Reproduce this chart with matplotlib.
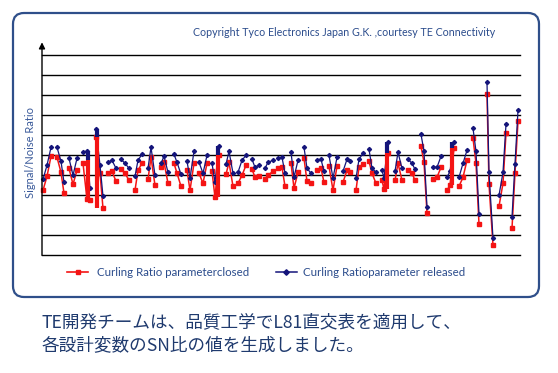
import numpy as np
import matplotlib
matplotlib.use("Agg")
import matplotlib.pyplot as plt
from matplotlib.patches import FancyBboxPatch
from matplotlib.lines import Line2D
from matplotlib.transforms import IdentityTransform

# ---- data (x = run position, y = S/N height in chart units) ----
group_x = [
    [43, 47, 51], [57, 61, 64], [69, 73, 77], [83, 87, 90], [96, 100, 103],
    [108, 112, 116], [121, 125, 129], [135, 138, 142], [148, 151, 155], [161, 164, 168],
    [174, 177, 181], [187, 190, 194], [199, 203, 207], [212, 215, 219], [226, 229, 233],
    [238, 242, 246], [252, 255, 259], [265, 268, 273], [278, 282, 285], [291, 294, 298],
    [304, 307, 311], [317, 321, 324], [329, 333, 337], [343, 347, 350], [356, 359, 363],
    [369, 372, 376], [382, 384, 388], [395, 398, 402], [408, 412, 415], [421, 424, 427],
    [433, 437, 441], [447, 450, 454], [459, 463, 467], [473, 476, 479], [487, 489, 493],
    [499, 503, 506], [512, 515, 518],
]
released = [
    [76, 90, 108], [108, 94, 73], [97, 80, 97], [103, 104, 67], [126, 90, 59],
    [93, 95, 87], [96, 92, 87], [79, 95, 101], [87, 108, 80], [92, 99, 83],
    [101, 93, 81], [94, 77, 104], [93, 82, 100], [92, 73, 109], [91, 104, 82],
    [83, 95, 100], [96, 88, 90], [87, 93, 95], [97, 98, 82], [103, 78, 95],
    [108, 87, 82], [95, 96, 84], [100, 77, 98], [84, 96, 94], [77, 96, 102],
    [106, 87, 83], [85, 77, 113], [84, 103, 87], [96, 92, 86], [121, 104, 48],
    [88, 88, 99], [78, 84, 113], [78, 92, 105], [127, 104, 41], [173, 83, 17],
    [60, 83, 131], [38, 91, 145],
]
closed = [
    [65, 79, 99], [98, 83, 62], [87, 71, 85], [92, 56, 55], [118, 82, 47],
    [82, 84, 74], [86, 82, 75], [65, 85, 92], [76, 98, 70], [88, 93, 72],
    [92, 82, 69], [85, 65, 92], [82, 72, 92], [84, 58, 100], [81, 93, 69],
    [72, 80, 90], [86, 78, 79], [76, 80, 84], [87, 88, 69], [92, 67, 83],
    [97, 74, 72], [85, 87, 73], [89, 65, 89], [73, 85, 83], [65, 88, 91],
    [94, 82, 72], [75, 66, 102], [75, 92, 75], [85, 82, 75], [109, 93, 42],
    [76, 78, 88], [65, 70, 107], [69, 78, 95], [117, 92, 31], [161, 71, 10],
    [49, 72, 122], [27, 82, 134],
]
# dense clusters of runs that render as thick vertical bars
bar_x = [88, 97, 218, 387, 452]
bar_released_top = [104, 126, 109, 113, 113]
bar_split = [95, 118, 100, 102, 107]
bar_closed_bottom = [56, 47, 58, 66, 70]

legend_labels = ["Curling Ratio parameterclosed", "Curling Ratioparameter released"]
ylabel = "Signal/Noise Ratio"
copyright_text = "Copyright Tyco Electronics Japan G.K. ,courtesy TE Connectivity"
caption = ["TE開発チームは、品質工学でL81直交表を適用して、",
           "各設計変数のSN比の値を生成しました。"]

RED = "#f41414"
BLUE = "#14147a"
TXT = "#2b4c8c"

def join_groups(xs, ys):
    X, Y = [], []
    for gx, gy in zip(xs, ys):
        X += list(gx) + [np.nan]
        Y += list(gy) + [np.nan]
    return np.array(X, float), np.array(Y, float)

W, H = 558, 373
fig = plt.figure(figsize=(W / 100, H / 100), dpi=100)
fig.patch.set_facecolor("white")

# rounded frame
frame = FancyBboxPatch((13, H - 297), 526, 284,
                       boxstyle="round,pad=0,rounding_size=11",
                       transform=IdentityTransform(), facecolor="none",
                       edgecolor="#2f4f8a", linewidth=1.6)
fig.add_artist(frame)

ax = fig.add_axes([42 / W, (H - 255.3) / H, (520 - 42) / W, 213 / H])
ax.set_xlim(42, 520)
ax.set_ylim(0, 213)
for s in ax.spines.values():
    s.set_visible(False)
ax.set_xticks([])
ax.set_yticks([])
for yv in range(0, 201, 20):
    ax.axhline(yv, color="black", lw=1.0, zorder=1, clip_on=False)
ax.annotate("", xy=(42, 213), xytext=(42, 0), xycoords="data",
            arrowprops=dict(arrowstyle="-|>", color="black", lw=1.0,
                            mutation_scale=9, shrinkA=0, shrinkB=0),
            annotation_clip=False, zorder=5)

xr, yr = join_groups(group_x, closed)
xb, yb = join_groups(group_x, released)
ax.plot(xr, yr, color=RED, lw=1.1, marker="s", ms=2.7, mec=RED, mfc=RED, zorder=3,
        clip_on=False)
ax.plot(xb, yb, color=BLUE, lw=0.9, marker="D", ms=2.1, mec=BLUE, mfc=BLUE, zorder=4,
        clip_on=False)
ax.vlines(bar_x, bar_split, bar_released_top, color=BLUE, lw=3.0, zorder=4)
ax.vlines(bar_x, bar_closed_bottom, bar_split, color=RED, lw=3.0, zorder=4)

# y label
fig.text(30 / W, 1 - 152 / H, ylabel, rotation=90, ha="center", va="center",
         fontsize=8.0, color="#3a5a9a", family="Lato")
# copyright
fig.text(344.5 / W, 1 - 33 / H, copyright_text, ha="center", va="center",
         fontsize=7.7, color=TXT, family="Lato")

# legend (manual)
ly = 1 - 272 / H
fig.add_artist(Line2D([67 / W, 88 / W], [ly, ly], color=RED, lw=1.2,
                      transform=fig.transFigure))
fig.add_artist(Line2D([78 / W], [ly], color=RED, marker="s", ms=3.4, lw=0,
                      transform=fig.transFigure))
fig.text(97 / W, ly, legend_labels[0], ha="left", va="center", fontsize=8.3,
         color=TXT, family="Lato")
fig.add_artist(Line2D([276 / W, 297 / W], [ly, ly], color=BLUE, lw=1.1,
                      transform=fig.transFigure))
fig.add_artist(Line2D([286 / W], [ly], color=BLUE, marker="D", ms=2.8, lw=0,
                      transform=fig.transFigure))
fig.text(303 / W, ly, legend_labels[1], ha="left", va="center", fontsize=8.3,
         color=TXT, family="Lato")

# caption
for i, line in enumerate(caption):
    fig.text(42 / W, 1 - (322 + 23.5 * i) / H, line, ha="left", va="center",
             fontsize=12.7, color="#1f3a6e",
             family=["Noto Sans CJK JP", "DejaVu Sans"])

fig.savefig("out.png", dpi=100, facecolor="white")
